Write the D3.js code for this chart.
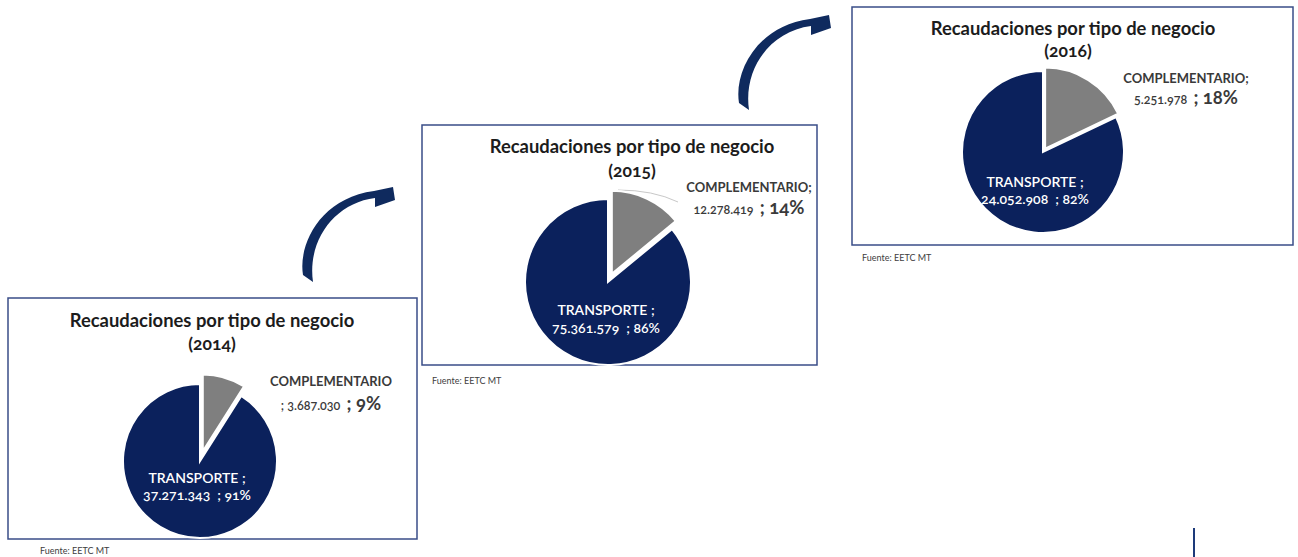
<!DOCTYPE html>
<html>
<head>
<meta charset="utf-8">
<script src="https://cdn.jsdelivr.net/npm/d3@7"></script>
<style>
  body { margin: 0; background: #fff; }
  svg text { font-family: Lato, "Open Sans", sans-serif; font-variant-numeric: oldstyle-nums; }
</style>
</head>
<body>
<div id="chart"></div>
<script>
// data
var years = ["2014", "2015", "2016"];
var categories = ["COMPLEMENTARIO", "TRANSPORTE"];
var complementario = [3687030, 12278419, 5251978];
var transporte = [37271343, 75361579, 24052908];
var fuente = "Fuente: EETC MT";
var titleText = "Recaudaciones por tipo de negocio";

var width = 1298, height = 557;
var colors = ["#7f7f7f", "#0b215c"];
var navy = "#0f2a5e";

var loc = d3.formatLocale({decimal: ",", thousands: ".", grouping: [3], currency: ["", ""]});
var fmt = loc.format(",d");

// layout of each panel (boxes, pie centers, label spots)
var panels = [
  {box: [8, 298, 409, 241], cx: 200, cy: 461, r: 77, explode: 10, titleX: 212, titleY: 327, yearY: 350,
   compX: 331, compY: [386, 410], compSplit: true, trX: 197, trY: [483, 500], fx: 40, fy: 554},
  {box: [422, 125, 395, 240], cx: 608, cy: 282, r: 83, explode: 9, titleX: 632, titleY: 153, yearY: 177,
   compX: 749, compY: [192, 214], compSplit: false, trX: 606, trY: [315, 333], fx: 432, fy: 384, leader: true},
  {box: [852, 7, 441, 238], cx: 1043, cy: 152, r: 81, explode: 4, titleX: 1073, titleY: 35, yearY: 57,
   compX: 1186, compY: [83, 104], compSplit: false, trX: 1035, trY: [187, 204], fx: 862, fy: 261}
];

var svg = d3.select("#chart").append("svg")
  .attr("width", width).attr("height", height);

var pie = d3.pie().sort(null).value(function (d) { return d; });
var arc = d3.arc().innerRadius(0);

panels.forEach(function (p, i) {
  var vals = [complementario[i], transporte[i]];
  var total = d3.sum(vals);
  var pct = vals.map(function (v) { return Math.round(v / total * 100); });

  var g = svg.append("g");
  g.append("rect")
    .attr("x", p.box[0]).attr("y", p.box[1])
    .attr("width", p.box[2]).attr("height", p.box[3])
    .attr("fill", "#fff").attr("stroke", "#3a4d88").attr("stroke-width", 1.5);

  g.append("text").attr("x", p.titleX).attr("y", p.titleY)
    .attr("text-anchor", "middle").attr("font-size", 18.4).attr("font-weight", 700)
    .attr("fill", "#1c1c1c").text(titleText);
  g.append("text").attr("x", p.titleX - (i === 2 ? 5 : 0)).attr("y", p.yearY)
    .attr("text-anchor", "middle").attr("font-size", 17.5).attr("font-weight", 700)
    .attr("fill", "#1c1c1c").text("(" + years[i] + ")");

  if (p.leader) {
    g.append("path")
      .attr("d", "M" + (p.cx + 10) + "," + (p.cy - 92) + " Q" + (p.cx + 45) + "," + (p.cy - 92) + " " + (p.cx + 70) + "," + (p.cy - 80))
      .attr("fill", "none").attr("stroke", "#c8c8c8").attr("stroke-width", 1);
  }

  var slices = g.append("g").attr("transform", "translate(" + p.cx + "," + p.cy + ")");
  slices.selectAll("path").data(pie(vals)).enter().append("path")
    .attr("transform", function (d, j) {
      if (j !== 0) return null;
      var a = (d.startAngle + d.endAngle) / 2;
      return "translate(" + (p.explode * Math.sin(a)) + "," + (-p.explode * Math.cos(a)) + ")";
    })
    .attr("d", function (d) { return arc.outerRadius(p.r)(d); })
    .attr("fill", function (d, j) { return colors[j]; })
    .attr("stroke", "#fff").attr("stroke-width", 2).attr("stroke-linejoin", "miter");

  // complementario label
  g.append("text").attr("x", p.compX).attr("y", p.compY[0])
    .attr("text-anchor", "middle").attr("font-size", 13).attr("font-weight", 700)
    .attr("fill", "#3a3a3a").text(categories[0] + (p.compSplit ? "" : ";"));
  var c2 = g.append("text").attr("x", p.compX).attr("y", p.compY[1])
    .attr("text-anchor", "middle").attr("fill", "#3a3a3a");
  c2.append("tspan").attr("font-size", 12.5).attr("font-weight", 600)
    .text((p.compSplit ? "; " : "") + fmt(vals[0]) + "\u00a0\u00a0");
  c2.append("tspan").attr("font-size", 18.5).attr("font-weight", 700)
    .text("; " + pct[0] + "%");

  // transporte label
  g.append("text").attr("x", p.trX).attr("y", p.trY[0])
    .attr("text-anchor", "middle").attr("font-size", 14).attr("font-weight", 600)
    .attr("fill", "#fff").text(categories[1] + " ;");
  g.append("text").attr("x", p.trX).attr("y", p.trY[1])
    .attr("text-anchor", "middle").attr("font-size", 14).attr("font-weight", 600)
    .attr("fill", "#fff").text(fmt(vals[1]) + "\u00a0\u00a0; " + pct[1] + "%");

  g.append("text").attr("x", p.fx).attr("y", p.fy)
    .attr("font-size", 9).attr("fill", "#404040").text(fuente);
});

// curved arrows between panels
var arrowPath = "M-7,-5 C-12,-35 10,-82 64,-89 L83,-93 L85,-80 L65,-73 L65,-82 C25,-77 -3,-40 3,2 Z";
[[310, 280], [746, 108]].forEach(function (t) {
  svg.append("path").attr("d", arrowPath)
    .attr("transform", "translate(" + t[0] + "," + t[1] + ")")
    .attr("fill", navy);
});

// small vertical rule bottom right
svg.append("line").attr("x1", 1194).attr("x2", 1194).attr("y1", 528).attr("y2", 557)
  .attr("stroke", "#1d3a7a").attr("stroke-width", 2);
</script>
</body>
</html>
